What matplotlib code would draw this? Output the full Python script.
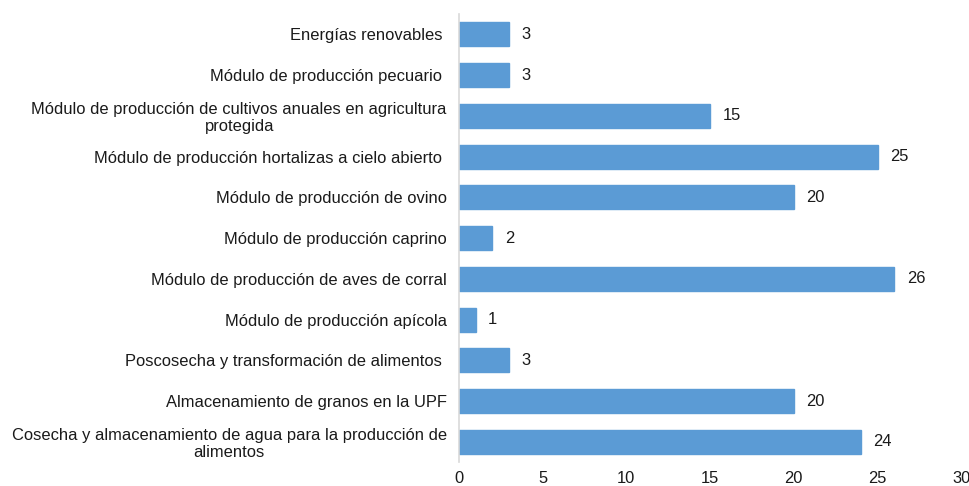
import matplotlib
matplotlib.use("Agg")
import matplotlib.pyplot as plt

categories = [
    "Energías renovables ",
    "Módulo de producción pecuario ",
    "Módulo de producción de cultivos anuales en agricultura\nprotegida",
    "Módulo de producción hortalizas a cielo abierto ",
    "Módulo de producción de ovino",
    "Módulo de producción caprino",
    "Módulo de producción de aves de corral",
    "Módulo de producción apícola",
    "Poscosecha y transformación de alimentos ",
    "Almacenamiento de granos en la UPF",
    "Cosecha y almacenamiento de agua para la producción de\nalimentos",
]
values = [3, 3, 15, 25, 20, 2, 26, 1, 3, 20, 24]
xticks = [0, 5, 10, 15, 20, 25, 30]

plt.rcParams['font.family'] = ['Liberation Sans', 'DejaVu Sans']

fig = plt.figure(figsize=(9.7, 4.86), dpi=100)
ax = fig.add_axes([0.473, 0.049, 0.518, 0.922])

y = list(range(len(categories)))
bars = ax.barh(y, values, height=0.59, color='#5B9BD5', edgecolor='#5B9BD5')
ax.set_ylim(len(categories) - 0.5, -0.5)
ax.set_xlim(0, 30)
ax.set_xticks(xticks)
ax.set_xticklabels([str(t) for t in xticks], fontsize=11.9, color='#1a1a1a')
ax.set_yticks(y)
ax.set_yticklabels(categories, fontsize=11.9, color='#1a1a1a', ha='right',
                   multialignment='center', linespacing=1.15)
ax.tick_params(axis='both', length=0)
ax.tick_params(axis='y', pad=8.6)
ax.tick_params(axis='x', pad=6.5)

for s in ['top', 'right', 'bottom']:
    ax.spines[s].set_visible(False)
ax.spines['left'].set_color('#D9D9D9')
ax.spines['left'].set_linewidth(1.2)

for b, v in zip(bars, values):
    ax.annotate(str(v), (b.get_width(), b.get_y() + b.get_height() / 2),
                xytext=(9, 0), textcoords='offset points', va='center', ha='left',
                fontsize=11.9, color='#1a1a1a')

fig.savefig('out.png', dpi=100)
